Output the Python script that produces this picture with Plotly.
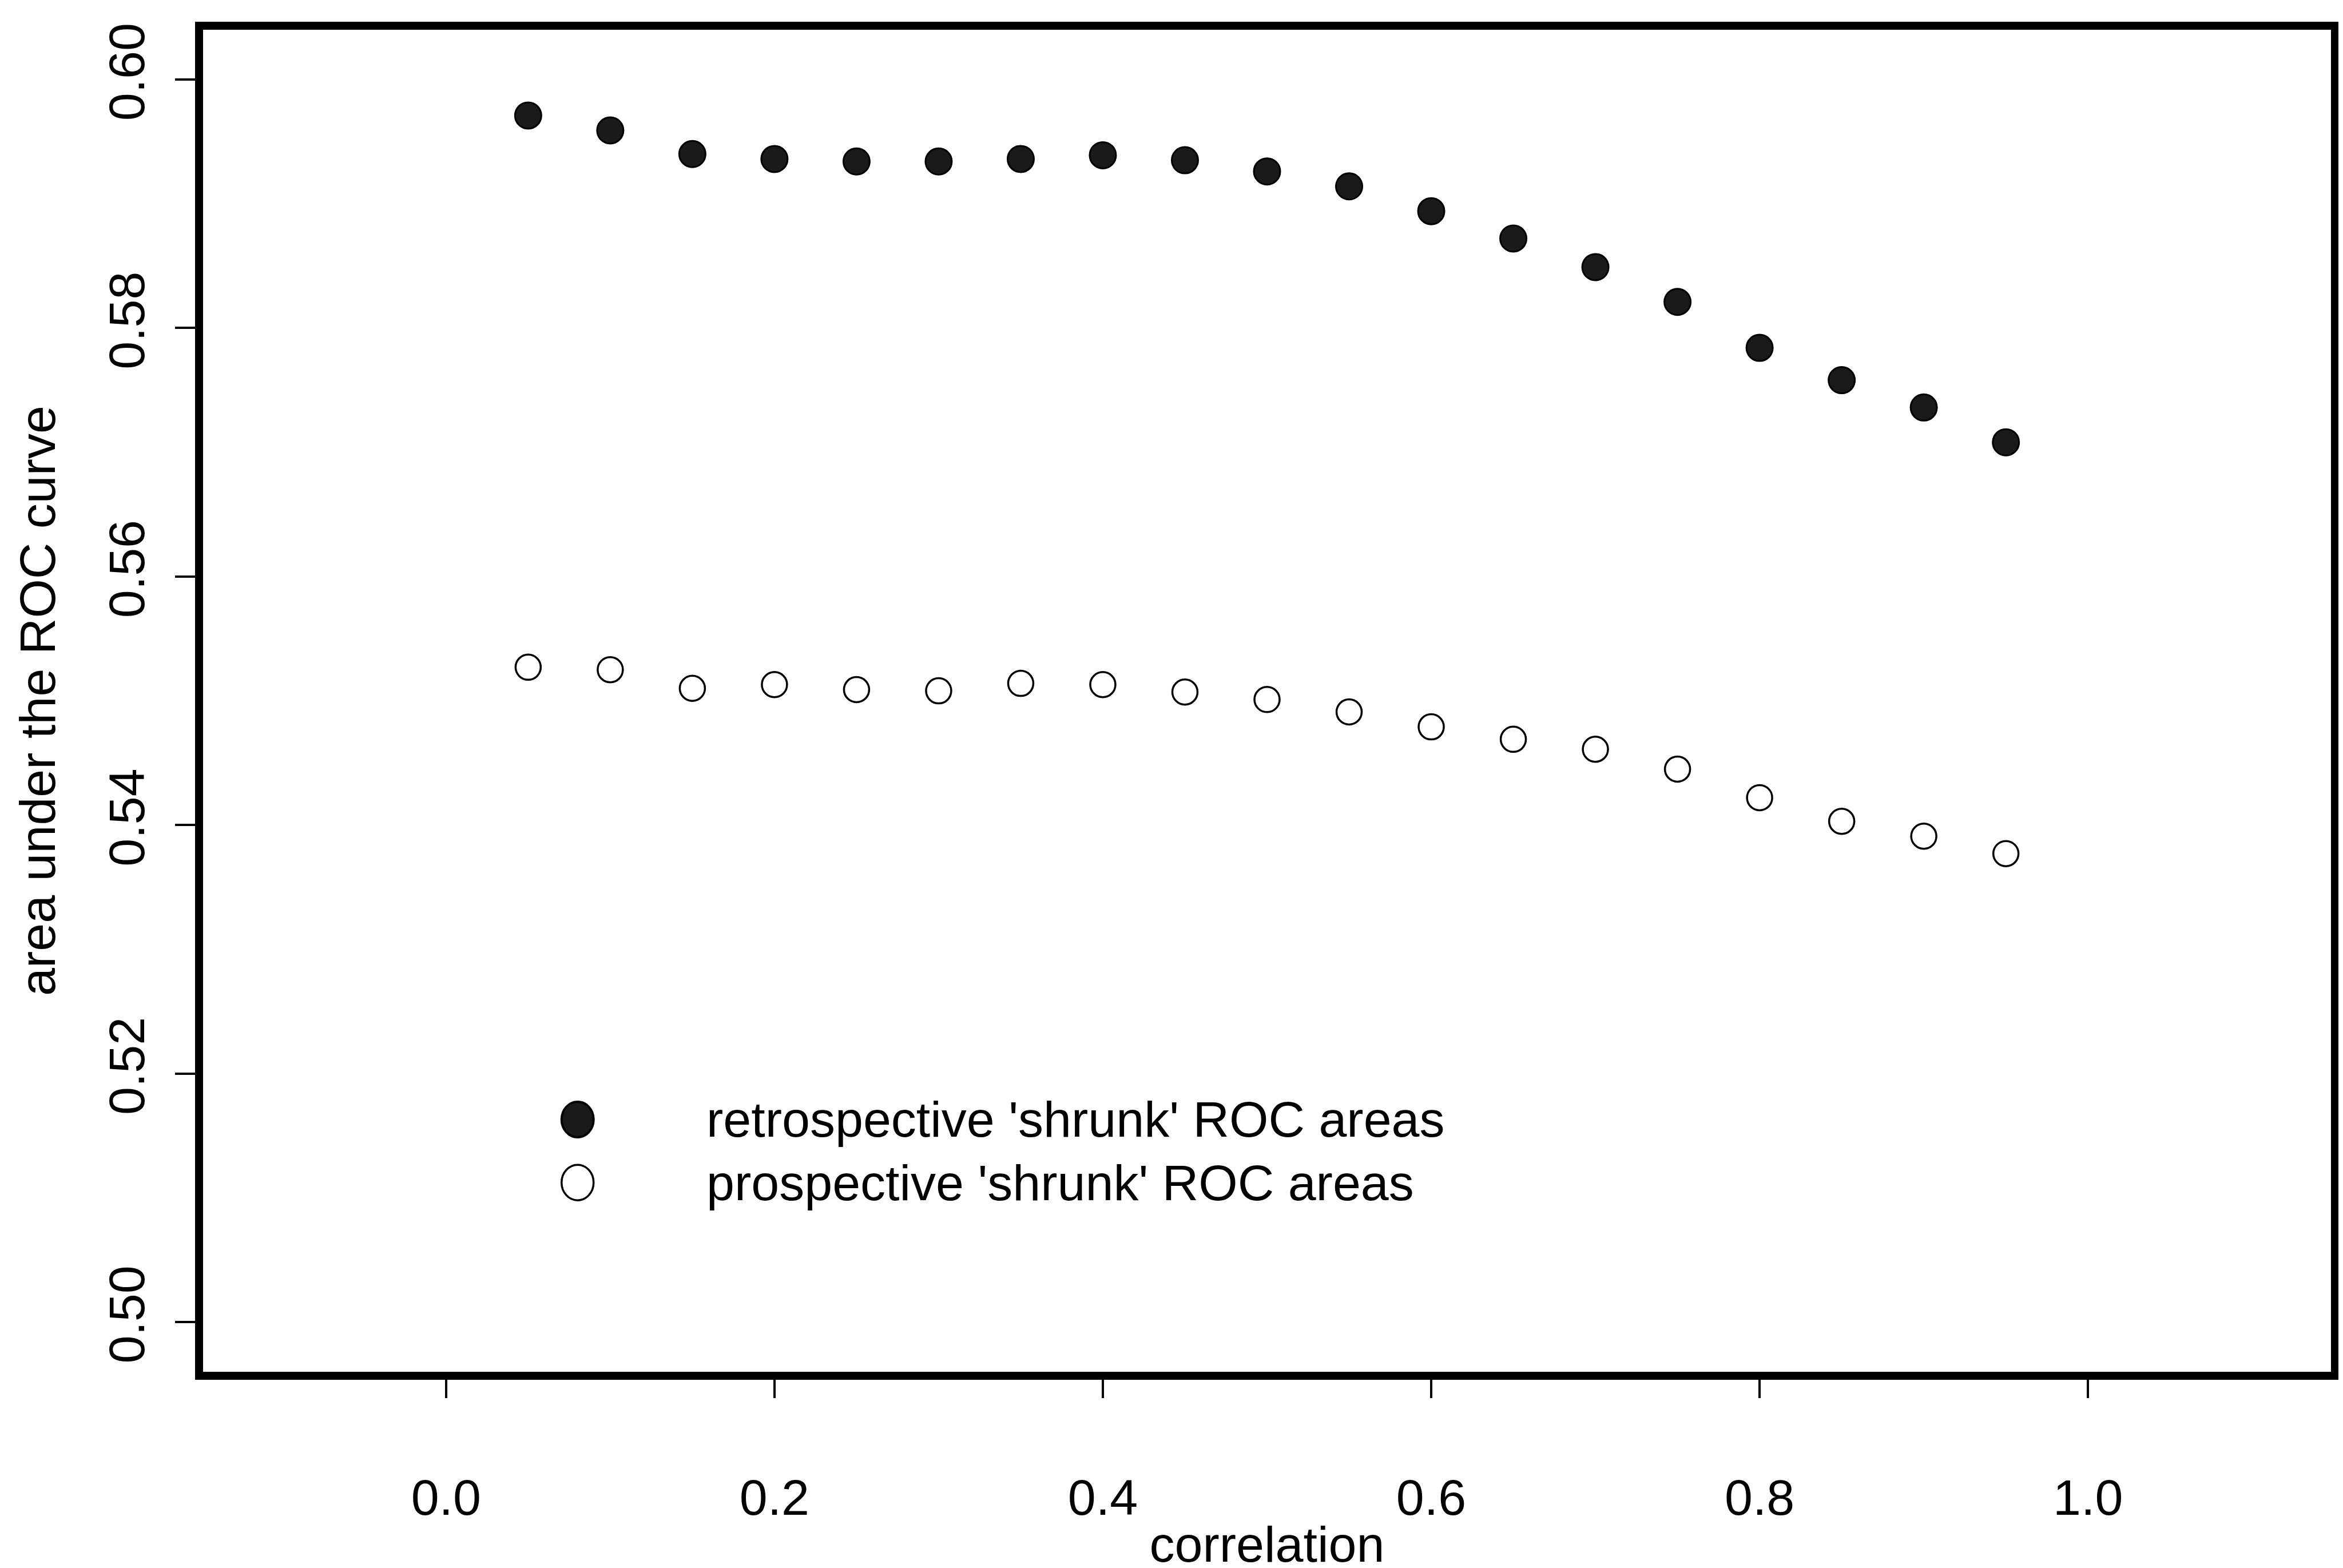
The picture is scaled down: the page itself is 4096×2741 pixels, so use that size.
import plotly.graph_objects as go

# ---------------- data ----------------
correlation = [0.05, 0.10, 0.15, 0.20, 0.25, 0.30, 0.35, 0.40, 0.45, 0.50,
               0.55, 0.60, 0.65, 0.70, 0.75, 0.80, 0.85, 0.90, 0.95]
retrospective = [0.5971, 0.5959, 0.5940, 0.5936, 0.5934, 0.5934, 0.5936, 0.5939, 0.5935, 0.5926,
                 0.5914, 0.5894, 0.5872, 0.5849, 0.5821, 0.5784, 0.5758, 0.5736, 0.5708]
prospective = [0.5527, 0.5525, 0.5510, 0.5513, 0.5509, 0.5508, 0.5514, 0.5513, 0.5507, 0.5501,
               0.5491, 0.5479, 0.5469, 0.5461, 0.5445, 0.5422, 0.5403, 0.5391, 0.5377]
x_tickvals = [0.0, 0.2, 0.4, 0.6, 0.8, 1.0]
x_ticktext = ["0.0", "0.2", "0.4", "0.6", "0.8", "1.0"]
y_tickvals = [0.50, 0.52, 0.54, 0.56, 0.58, 0.60]
y_ticktext = ["0.50", "0.52", "0.54", "0.56", "0.58", "0.60"]
legend_labels = ["retrospective 'shrunk' ROC areas", "prospective 'shrunk' ROC areas"]

# ---------------- style ----------------
FONT = "Liberation Sans, Arial, Helvetica, sans-serif"
FS = 88
W, H = 4096, 2741
M_L, M_R, M_T, M_B = 347, 29, 44, 351

fig = go.Figure()
fig.add_trace(go.Scatter(
    x=correlation, y=retrospective, mode="markers", name=legend_labels[0],
    marker=dict(symbol="circle", size=46, color="#1a1a1a",
                line=dict(color="black", width=3)),
    showlegend=False))
fig.add_trace(go.Scatter(
    x=correlation, y=prospective, mode="markers", name=legend_labels[1],
    marker=dict(symbol="circle-open", size=44, color="black",
                line=dict(color="black", width=3.5)),
    showlegend=False))

# manual legend (box-less, like R's legend(bty="n"))
LEG_SYM_X = 0.176
LEG_TXT_X = 0.236
LEG_Y = [0.188, 0.141]
fig.add_shape(type="circle", xref="paper", yref="paper",
              xsizemode="pixel", ysizemode="pixel",
              xanchor=LEG_SYM_X, yanchor=LEG_Y[0],
              x0=-28, x1=28, y0=-31, y1=31,
              fillcolor="#1a1a1a", line=dict(color="black", width=4))
fig.add_shape(type="circle", xref="paper", yref="paper",
              xsizemode="pixel", ysizemode="pixel",
              xanchor=LEG_SYM_X, yanchor=LEG_Y[1],
              x0=-28, x1=28, y0=-31, y1=31,
              fillcolor="rgba(0,0,0,0)", line=dict(color="black", width=3.5))
for lab, yy in zip(legend_labels, LEG_Y):
    fig.add_annotation(text=lab, xref="paper", yref="paper", x=LEG_TXT_X, y=yy,
                       xanchor="left", yanchor="middle", showarrow=False,
                       font=dict(family=FONT, size=FS, color="black"))

axis_common = dict(showline=True, linecolor="black", linewidth=14, mirror=True,
                   ticks="outside", tickcolor="black", tickwidth=4,
                   showgrid=False, zeroline=False,
                   tickfont=dict(family=FONT, size=FS, color="black"))

fig.update_xaxes(range=[-0.148, 1.148], tickmode="array", tickvals=x_tickvals,
                 ticktext=x_ticktext, ticklen=32, ticklabelstandoff=98,
                 title=dict(text="correlation", standoff=50,
                            font=dict(family=FONT, size=FS, color="black")),
                 **axis_common)
fig.update_yaxes(range=[0.496, 0.604], tickmode="array", tickvals=y_tickvals,
                 ticktext=y_ticktext, ticklen=35, tickangle=-90, ticklabelstandoff=19,
                 title=dict(text="area under the ROC curve", standoff=52,
                            font=dict(family=FONT, size=FS, color="black")),
                 **axis_common)

fig.update_layout(width=W, height=H, autosize=False,
                  margin=dict(l=M_L, r=M_R, t=M_T, b=M_B, pad=0, autoexpand=False),
                  plot_bgcolor="white", paper_bgcolor="white",
                  font=dict(family=FONT, size=FS, color="black"))

fig.write_html("out.html")
